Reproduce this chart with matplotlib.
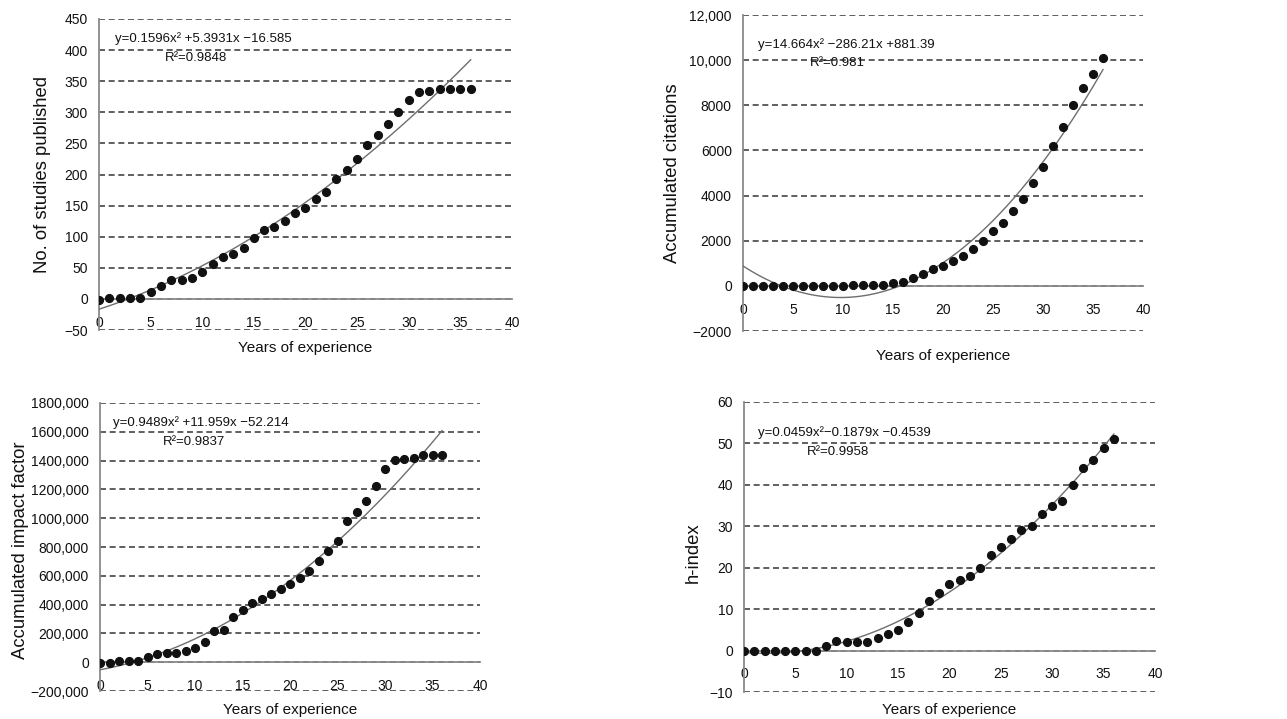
import numpy as np
import matplotlib
matplotlib.use("Agg")
import matplotlib.pyplot as plt

plt.rcParams['font.family'] = ['Liberation Sans', 'DejaVu Sans']

years = list(range(0, 37))

studies = [-2, 2, 1, 1, 1, 11, 21, 30, 30, 34, 44, 56, 68, 72, 82, 98, 110, 116, 126,
           138, 146, 160, 172, 193, 207, 225, 248, 263, 281, 301, 319, 333, 335, 337,
           338, 338, 338]
citations = [0, 0, 0, 0, 0, -10, -10, 0, 0, 0, 0, 30, 30, 30, 30, 130, 190, 340, 520,
             750, 900, 1120, 1340, 1630, 2000, 2420, 2790, 3310, 3840, 4540, 5250, 6180,
             7040, 8030, 8760, 9390, 10100]
impact = [-7, -7, 7, 7, 7, 38, 57, 67, 67, 76, 98, 138, 217, 224, 314, 360, 410, 438,
          471, 505, 543, 586, 636, 700, 771, 845, 979, 1043, 1121, 1224, 1340, 1402,
          1410, 1421, 1440, 1440, 1440]
hindex = [0, 0, 0, 0, 0, 0, 0, 0, 1.2, 2.2, 2.1, 2.1, 2, 3, 4, 5, 7, 9, 12, 14, 16,
          17, 18, 20, 23, 25, 27, 29, 30, 33, 35, 36, 40, 44, 46, 49, 51]

coef_studies = [0.1596, 5.3931, -16.585]
coef_citations = [14.664, -286.21, 881.39]
coef_impact = [0.9489, 11.959, -52.214]
coef_hindex = [0.0459, -0.1879, -0.4539]

eq_studies = "y=0.1596x² +5.3931x −16.585"
eq_citations = "y=14.664x² −286.21x +881.39"
eq_impact = "y=0.9489x² +11.959x −52.214"
eq_hindex = "y=0.0459x²−0.1879x −0.4539"
r2_studies = "R²=0.9848"
r2_citations = "R²=0.981"
r2_impact = "R²=0.9837"
r2_hindex = "R²=0.9958"

xticks = [0, 5, 10, 15, 20, 25, 30, 35, 40]

yt_studies = [-50, 0, 50, 100, 150, 200, 250, 300, 350, 400, 450]
yl_studies = ["−50", "0", "50", "100", "150", "200", "250", "300", "350", "400", "450"]
yt_citations = [-2000, 0, 2000, 4000, 6000, 8000, 10000, 12000]
yl_citations = ["−2000", "0", "2000", "4000", "6000", "8000", "10,000", "12,000"]
yt_impact = [-200, 0, 200, 400, 600, 800, 1000, 1200, 1400, 1600, 1800]
yl_impact = ["−200,000", "0", "200,000", "400,000", "600,000", "800,000", "1000,000",
             "1200,000", "1400,000", "1600,000", "1800,000"]
yt_hindex = [-10, 0, 10, 20, 30, 40, 50, 60]
yl_hindex = ["−10", "0", "10", "20", "30", "40", "50", "60"]

fig = plt.figure(figsize=(12.87, 7.19), dpi=100)

panels = [
    dict(rect=[0.0769, 0.541, 0.3209, 0.4326], y=studies, coef=coef_studies,
         yt=yt_studies, yl=yl_studies, ylabel="No. of studies published",
         eq=eq_studies, r2=r2_studies, eqpos=(115, 39), r2pos=(165, 58),
         ylab_x=-0.136, ylab_y=0.5, xlab_y=-0.034),
    dict(rect=[0.5773, 0.5396, 0.3108, 0.4395], y=citations, coef=coef_citations,
         yt=yt_citations, yl=yl_citations, ylabel="Accumulated citations",
         eq=eq_citations, r2=r2_citations, eqpos=(758, 45), r2pos=(810, 63),
         ylab_x=-0.175, ylab_y=0.5, xlab_y=-0.058),
    dict(rect=[0.0777, 0.0389, 0.2953, 0.4006], y=impact, coef=coef_impact,
         yt=yt_impact, yl=yl_impact, ylabel="Accumulated impact factor",
         eq=eq_impact, r2=r2_impact, eqpos=(113, 423), r2pos=(163, 442),
         ylab_x=-0.21, ylab_y=0.49, xlab_y=-0.042),
    dict(rect=[0.5781, 0.0375, 0.3193, 0.4034], y=hindex, coef=coef_hindex,
         yt=yt_hindex, yl=yl_hindex, ylabel="h-index",
         eq=eq_hindex, r2=r2_hindex, eqpos=(758, 433), r2pos=(807, 452),
         ylab_x=-0.124, ylab_y=0.48, xlab_y=-0.038),
]

W, H = 1287, 719
for p in panels:
    ax = fig.add_axes(p['rect'])
    ax.set_xlim(0, 40)
    ax.set_ylim(p['yt'][0], p['yt'][-1])
    ax.set_yticks(p['yt'])
    ax.set_yticklabels(p['yl'])
    ax.set_xticks(xticks)
    ax.set_xticklabels([str(t) for t in xticks])
    for s in ['top', 'right']:
        ax.spines[s].set_visible(False)
    ax.spines['bottom'].set_position(('data', 0))
    for s in ['left', 'bottom']:
        ax.spines[s].set_color('#8a8a8a')
        ax.spines[s].set_linewidth(1.3)
    ax.tick_params(axis='both', length=0, labelsize=10, colors='#111111')
    ax.tick_params(axis='y', pad=8)
    ax.tick_params(axis='x', pad=12)
    ax.yaxis.grid(True, color='#444444', linewidth=1.2, linestyle=(0, (3.6, 2.2)))
    ax.set_axisbelow(True)

    xs = np.linspace(0, 36, 200)
    ax.plot(xs, np.polyval(p['coef'], xs), color='#6e6e6e', linewidth=1.0, zorder=3)
    ax.plot(years, p['y'], 'o', color='#111111', markersize=5.6, zorder=4)

    ax.text(p['ylab_x'], p['ylab_y'], p['ylabel'], transform=ax.transAxes, rotation=90,
            ha='center', va='center', fontsize=13.3, color='#111111')
    ax.text(0.5, p['xlab_y'], "Years of experience", transform=ax.transAxes,
            ha='center', va='top', fontsize=11, color='#111111')

    ex, ey = p['eqpos']
    fig.text(ex / W, 1 - ey / H, p['eq'], ha='left', va='center', fontsize=9.5,
             color='#111111')
    rx, ry = p['r2pos']
    fig.text(rx / W, 1 - ry / H, p['r2'], ha='left', va='center', fontsize=9.5,
             color='#111111')

fig.savefig("out.png", dpi=100)
